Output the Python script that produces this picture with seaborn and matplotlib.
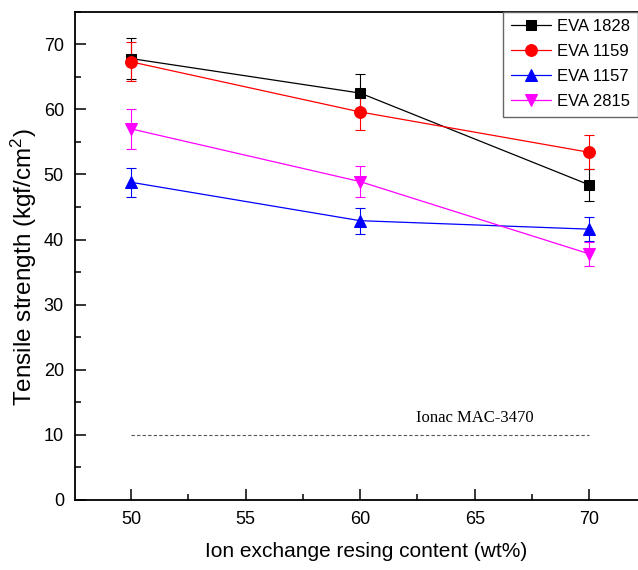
import numpy as np
import pandas as pd
import matplotlib
matplotlib.use("Agg")
import matplotlib.pyplot as plt
import seaborn as sns
from matplotlib.ticker import MultipleLocator

# Resin content (wt%)
content = [50, 60, 70]

# Tensile strength (kgf/cm2) and standard deviations per EVA grade
eva_1828 = [67.8, 62.5, 48.4]
eva_1828_err = [3.1, 3.0, 2.4]
eva_1159 = [67.3, 59.6, 53.4]
eva_1159_err = [3.0, 2.7, 2.6]
eva_1157 = [48.8, 42.9, 41.6]
eva_1157_err = [2.2, 2.0, 1.8]
eva_2815 = [57.0, 48.9, 37.8]
eva_2815_err = [3.1, 2.4, 1.8]

series_names = ["EVA 1828", "EVA 1159", "EVA 1157", "EVA 2815"]
series_vals = [eva_1828, eva_1159, eva_1157, eva_2815]
series_errs = [eva_1828_err, eva_1159_err, eva_1157_err, eva_2815_err]
colors = ["#000000", "#FF0000", "#0000FF", "#FF00FF"]
markers = ["s", "o", "^", "v"]
msizes = [7, 8.5, 9, 9]

# Reference level for the commercial membrane
ref_label = "Ionac MAC-3470"
ref_value = 10

sns.set_theme(style="white")
plt.rcParams["font.family"] = ["Liberation Sans", "DejaVu Sans"]
plt.rcParams["mathtext.default"] = "regular"
plt.rcParams["text.color"] = "black"
plt.rcParams["axes.labelcolor"] = "black"

df = pd.DataFrame({
    "content": np.tile(content, len(series_names)),
    "strength": np.concatenate(series_vals),
    "err": np.concatenate(series_errs),
    "grade": np.repeat(series_names, len(content)),
})

fig = plt.figure(figsize=(6.38, 5.70), dpi=100)
ax = fig.add_axes([75 / 638, 70 / 570, (658 - 75) / 638, (500 - 11.7) / 570])

for name, col, mk, ms in zip(series_names, colors, markers, msizes):
    sub = df[df["grade"] == name]
    ax.errorbar(sub["content"], sub["strength"], yerr=sub["err"], fmt="none",
                ecolor=col, elinewidth=0.8, capsize=3.5, capthick=0.8, zorder=2)
    sns.lineplot(data=sub, x="content", y="strength", ax=ax, color=col,
                 marker=mk, markersize=ms, markeredgecolor=col, linewidth=0.9,
                 label=name, zorder=3)

# Dashed reference line with its label
ax.plot([content[0], content[-1]], [ref_value, ref_value], linestyle=(0, (3, 2)),
        color="#555555", linewidth=0.8)
ax.text(65, 12, ref_label, ha="center", va="baseline", fontsize=12,
        family=["Liberation Serif", "DejaVu Serif"])

ax.set_xlim(47.55, 73)
ax.set_ylim(0, 75)
ax.xaxis.set_major_locator(MultipleLocator(5))
ax.xaxis.set_minor_locator(MultipleLocator(2.5))
ax.yaxis.set_major_locator(MultipleLocator(10))
ax.yaxis.set_minor_locator(MultipleLocator(5))
ax.tick_params(which="major", direction="in", length=8, width=1.1, labelsize=13,
               color="black", labelcolor="black")
ax.tick_params(which="minor", direction="in", length=4, width=1.1, color="black")
ax.tick_params(axis="x", which="both", bottom=True, top=False, pad=8)
ax.tick_params(axis="y", which="both", left=True, right=False, pad=8)

for side in ["left", "bottom", "top", "right"]:
    ax.spines[side].set_color("black")
    ax.spines[side].set_linewidth(1.3)

ax.set_xlabel("Ion exchange resing content (wt%)", fontsize=15, labelpad=10)
ax.set_ylabel("Tensile strength (kgf/cm$^2$)", fontsize=17.5, va="center")
ax.yaxis.set_label_coords((24 - 75) / 583, (500 - 267) / 488.3)

leg = ax.legend(loc="upper left", bbox_to_anchor=((503 - 75) / (658 - 75), 1.0),
                fontsize=12, frameon=True, fancybox=False, framealpha=1,
                edgecolor="#666666", handlelength=2.4, handletextpad=0.4,
                borderpad=0.45, labelspacing=0.6, borderaxespad=0)
leg.get_frame().set_linewidth(1.0)

fig.savefig("out.png", dpi=100)
